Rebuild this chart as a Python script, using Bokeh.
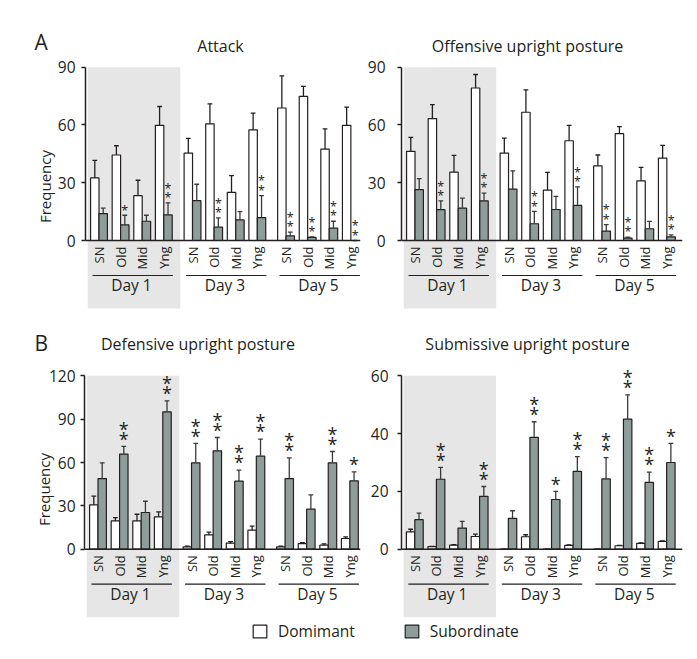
import math
from bokeh.plotting import figure
from bokeh.layouts import column, row
from bokeh.models import Span, FixedTicker, Legend, LegendItem, Range1d
from bokeh.core.properties import value
from bokeh.embed import file_html
from bokeh.resources import INLINE

FONT = "Open Sans"
INK = "#231f20"
SUB_COLOR = "#8e9d9a"
BAND = "#e6e6e6"
EM_SHIFT = 0.37   # baseline correction (em) for text placed by its baseline

# ---------------- data ----------------
days = ["Day 1", "Day 3", "Day 5"]
groups = ["SN", "Old", "Mid", "Yng"]

attack_dom = [32.5, 44.4, 23.3, 59.8, 45.4, 60.6, 25.0, 57.5, 68.8, 74.8, 47.5, 59.8]
attack_dom_err = [9.1, 4.8, 8.0, 9.8, 7.6, 10.4, 8.7, 8.7, 16.7, 5.2, 10.5, 9.5]
attack_sub = [14.0, 8.1, 10.0, 13.3, 20.7, 6.9, 10.7, 11.9, 2.4, 1.6, 6.4, 0.0]
attack_sub_err = [2.8, 5.0, 3.1, 6.2, 8.5, 4.8, 4.3, 11.4, 1.9, 0.3, 3.6, 0.0]
attack_sig = ["", "*", "", "**", "", "**", "", "**", "**", "**", "**", "**"]

offensive_dom = [46.3, 63.3, 35.5, 79.2, 45.4, 66.6, 26.2, 51.8, 38.8, 55.5, 31.0, 42.8]
offensive_dom_err = [7.3, 7.3, 8.7, 7.0, 7.8, 11.6, 9.2, 8.0, 5.6, 3.6, 7.0, 6.6]
offensive_sub = [26.4, 16.0, 16.8, 20.6, 26.7, 8.7, 16.1, 18.2, 4.9, 1.2, 6.1, 1.9]
offensive_sub_err = [5.7, 4.6, 5.2, 4.0, 9.5, 6.4, 6.8, 9.7, 3.3, 0.5, 3.8, 1.0]
offensive_sig = ["", "**", "", "**", "", "**", "", "**", "**", "**", "", "**"]

defensive_dom = [30.7, 19.6, 19.6, 22.4, 1.6, 9.9, 4.2, 13.2, 1.6, 3.9, 2.8, 7.4]
defensive_dom_err = [6.0, 2.3, 4.6, 3.4, 0.5, 1.9, 1.1, 2.7, 0.5, 0.7, 0.9, 1.1]
defensive_sub = [48.9, 65.8, 25.4, 95.1, 59.8, 68.1, 47.1, 64.4, 48.9, 27.7, 59.8, 47.3]
defensive_sub_err = [10.9, 5.3, 7.8, 7.6, 13.4, 9.2, 7.6, 11.8, 14.3, 9.9, 7.8, 6.2]
defensive_sig = ["", "**", "", "**", "**", "**", "**", "**", "**", "", "**", "*"]

submissive_dom = [6.0, 0.9, 1.4, 4.4, 0.0, 4.3, 0.0, 1.3, 0.0, 1.2, 2.0, 2.7]
submissive_dom_err = [0.9, 0.1, 0.2, 0.8, 0.0, 0.7, 0.0, 0.2, 0.0, 0.1, 0.2, 0.2]
submissive_sub = [10.2, 24.2, 7.3, 18.3, 10.7, 38.7, 17.2, 26.9, 24.3, 45.0, 23.1, 30.0]
submissive_sub_err = [2.3, 4.1, 2.3, 3.4, 2.6, 5.4, 2.8, 5.1, 7.4, 8.4, 3.6, 6.6]
submissive_sig = ["", "**", "", "**", "", "**", "*", "**", "**", "**", "**", "*"]

panel_letters = ["A", "B"]
panel_titles = ["Attack", "Offensive upright posture",
                "Defensive upright posture", "Submissive upright posture"]
legend_labels = ["Domimant", "Subordinate"]

# ---------------- layout constants ----------------
DAY_STEP = 4.33     # x units between day groups
BAR_W = 0.39        # bar width in x units
CAP = 0.11          # half-width of error caps
PX = 21.6           # px per x unit
TOTAL_W = 689


def make_panel(cfg, dom, dom_err, sub, sub_err, sig, ymax, yticks, ylabel=None):
    fl, fr = cfg["frame_left"], cfg["frame_right"]
    ft, fb = cfg["frame_top"], cfg["frame_bottom"]
    zero, ppy = cfg["zero"], cfg["ppy"]
    x_start = -(cfg["first"] - fl) / PX
    x_end = x_start + (fr - fl) / PX
    y_start = -(fb - zero) / ppy
    y_end = (zero - ft) / ppy

    def dy(py):
        return (zero - py) / ppy

    p = figure(width=cfg["cw"], height=cfg["ch"], title=None,
               x_range=Range1d(x_start, x_end), y_range=Range1d(y_start, y_end),
               output_backend="svg", toolbar_location=None, x_axis_location=None,
               min_border_left=fl - cfg["cl"], min_border_right=cfg["cl"] + cfg["cw"] - fr,
               min_border_top=ft - cfg["ct"], min_border_bottom=cfg["ct"] + cfg["ch"] - fb)
    p.outline_line_color = None
    p.grid.visible = False
    p.background_fill_color = None
    p.border_fill_color = None

    centers = [d * DAY_STEP + c for d in range(len(days)) for c in range(len(groups))]
    labels = [g for _ in days for g in groups]

    # shaded Day 1 block
    p.quad(left=[centers[0] - 0.52], right=[centers[3] + 0.76],
           bottom=[dy(zero + 68)], top=[ymax], fill_color=BAND, line_color=None)

    xd = [c - BAR_W / 2 for c in centers]
    xs = [c + BAR_W / 2 for c in centers]
    dom_top = [m + e for m, e in zip(dom, dom_err)]
    sub_top = [m + e for m, e in zip(sub, sub_err)]

    p.vbar(x=xd, top=dom, bottom=0, width=BAR_W, fill_color="white",
           line_color=INK, line_width=1.2)
    p.vbar(x=xs, top=sub, bottom=0, width=BAR_W, fill_color=SUB_COLOR,
           line_color=INK, line_width=1.2)
    for xx, m, t, col in ((xd, dom, dom_top, INK), (xs, sub, sub_top, "#3a3a3a")):
        p.segment(x0=xx, y0=m, x1=xx, y1=t, line_color=col, line_width=1.3)
        p.segment(x0=[x - CAP for x in xx], y0=t, x1=[x + CAP for x in xx], y1=t,
                  line_color=col, line_width=1.3)

    p.add_layout(Span(location=0, dimension="width", line_color=INK, line_width=1.5))

    # significance stars
    sx, sy, so = [], [], []
    for x, t, s in zip(xs, sub_top, sig):
        for k in range(len(s)):
            sx.append(x)
            sy.append(t)
            so.append(cfg["star_off"][k])
    p.text(x=sx, y=sy, text=["*"] * len(sx), y_offset=so, text_align="center",
           text_baseline="alphabetic", text_font=value(FONT),
           text_font_size=cfg["star_size"], text_color=INK)

    # category labels (rotated)
    p.text(x=centers, y=[0] * len(centers), text=labels, angle=math.pi / 2,
           y_offset=6, text_align="right", text_baseline="middle",
           text_font=value(FONT), text_font_size="13px", text_color=INK)

    # day underlines and labels
    d0 = [centers[4 * d] - 0.3 for d in range(len(days))]
    d1 = [centers[4 * d + 3] + 0.42 for d in range(len(days))]
    uy = dy(zero + 35)
    p.segment(x0=d0, y0=[uy] * 3, x1=d1, y1=[uy] * 3, line_color=INK, line_width=1.2)
    dc = [(centers[4 * d] + centers[4 * d + 3]) / 2 for d in range(len(days))]
    p.text(x=dc, y=[0] * 3, text=days, y_offset=50.5 - EM_SHIFT * 15.5,
           text_align="center", text_baseline="alphabetic", text_font=value(FONT),
           text_font_size="15.5px", text_color=INK)

    ax = p.yaxis[0]
    ax.ticker = FixedTicker(ticks=yticks)
    ax.bounds = (0, ymax)
    ax.axis_line_color = INK
    ax.axis_line_width = 1.5
    ax.major_tick_line_color = INK
    ax.major_tick_line_width = 1.5
    ax.major_tick_out = 4
    ax.major_tick_in = 0
    ax.minor_tick_line_color = None
    ax.major_label_standoff = cfg["tick_standoff"]
    ax.major_label_text_font = FONT
    ax.major_label_text_font_size = "15.5px"
    ax.major_label_text_color = INK
    if ylabel:
        ax.axis_label = ylabel
        ax.axis_label_text_font = FONT
        ax.axis_label_text_font_size = "15px"
        ax.axis_label_text_font_style = "normal"
        ax.axis_label_text_color = INK
        ax.axis_label_standoff = cfg["label_standoff"]
    return p


def make_strip(height, texts):
    """A text-only strip; y measured downward from the strip's top (px)."""
    s = figure(width=TOTAL_W, height=height, title=None,
               x_range=Range1d(0, TOTAL_W), y_range=Range1d(height, 0),
               output_backend="svg", toolbar_location=None,
               x_axis_location=None, y_axis_location=None, min_border=0)
    s.outline_line_color = None
    s.grid.visible = False
    s.background_fill_color = None
    s.border_fill_color = None
    for txt, x, base, align, size in texts:
        s.text(x=[x], y=[base - EM_SHIFT * size], text=[txt], text_align=align,
               text_baseline="alphabetic", text_font=value(FONT),
               text_font_size=f"{size}px", text_color=INK)
    return s


def star_offsets(size, centers_above):
    # baseline offsets (px, downward positive) for stars whose centres sit given px above
    return [-(c - 0.59 * size) - EM_SHIFT * size for c in centers_above]


A_vert = dict(ct=56, ch=262, frame_top=60, frame_bottom=312, zero=240, ppy=1.9256,
              star_size="12.5px", star_off=star_offsets(12.5, [8, 17.5]))
B_vert = dict(ct=360, ch=258, frame_top=360, frame_bottom=618, zero=548.7,
              star_size="18px", star_off=star_offsets(18, [11.7, 21.7]))

cfg_al = dict(A_vert, cl=0, cw=364, frame_left=85, frame_right=360, first=98.5,
              tick_standoff=6, label_standoff=0)
cfg_ar = dict(A_vert, cl=364, cw=325, frame_left=401, frame_right=682, first=414.5,
              tick_standoff=12, label_standoff=4)
cfg_bl = dict(B_vert, cl=0, cw=364, frame_left=84, frame_right=360, first=97.5,
              tick_standoff=5, label_standoff=-8, ppy=1.445)
cfg_br = dict(B_vert, cl=364, cw=325, frame_left=401, frame_right=682, first=414.3,
              tick_standoff=9, label_standoff=4, ppy=2.89)

stripA = make_strip(56, [(panel_letters[0], 34, 49.5, "left", 21),
                         (panel_titles[0], 220, 51, "center", 16),
                         (panel_titles[1], 527, 51, "center", 16)])
p1 = make_panel(cfg_al, attack_dom, attack_dom_err, attack_sub, attack_sub_err,
                attack_sig, 90, [0, 30, 60, 90], ylabel="Frequency")
p2 = make_panel(cfg_ar, offensive_dom, offensive_dom_err, offensive_sub,
                offensive_sub_err, offensive_sig, 90, [0, 30, 60, 90])
stripB = make_strip(42, [(panel_letters[1], 34, 32, "left", 21),
                         (panel_titles[2], 197.5, 31.5, "center", 16),
                         (panel_titles[3], 527, 31.5, "center", 16)])
p3 = make_panel(cfg_bl, defensive_dom, defensive_dom_err, defensive_sub,
                defensive_sub_err, defensive_sig, 120, [0, 30, 60, 90, 120],
                ylabel="Frequency")
p4 = make_panel(cfg_br, submissive_dom, submissive_dom_err, submissive_sub,
                submissive_sub_err, submissive_sig, 60, [0, 20, 40, 60])

# legend strip
pl = make_strip(37, [])
r1 = pl.vbar(x=list(range(len(defensive_dom))), top=defensive_dom, width=0.5,
             fill_color="white", line_color=INK, line_width=1.2, visible=False)
r2 = pl.vbar(x=list(range(len(defensive_sub))), top=defensive_sub, width=0.5,
             fill_color=SUB_COLOR, line_color=INK, line_width=1.2, visible=False)
leg = Legend(items=[LegendItem(label=legend_labels[0], renderers=[r1]),
                    LegendItem(label=legend_labels[1], renderers=[r2])],
             orientation="horizontal", location=(251, 13), padding=0, margin=0,
             spacing=48, label_standoff=10, glyph_width=17, glyph_height=16,
             label_text_font=FONT, label_text_font_size="15.5px", label_text_color=INK,
             border_line_alpha=0, background_fill_alpha=0, inactive_fill_alpha=0,
             click_policy="none")
pl.add_layout(leg)

layout = column(stripA, row(p1, p2), stripB, row(p3, p4), pl)
open("out.html", "w").write(file_html(layout, INLINE))
